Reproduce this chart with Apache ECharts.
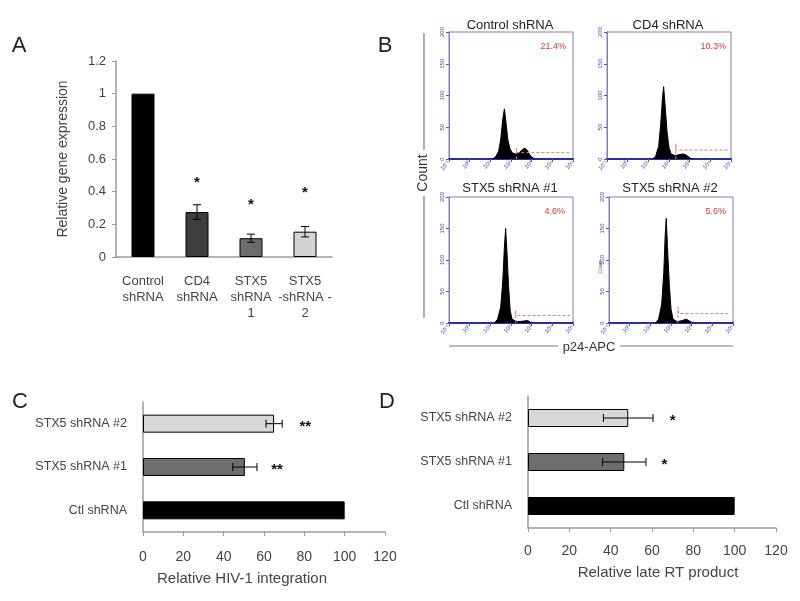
<!DOCTYPE html>
<html>
<head>
<meta charset="utf-8">
<script src="https://cdn.jsdelivr.net/npm/echarts@6/dist/echarts.min.js"></script>
<style>
html, body { margin: 0; padding: 0; background: #fff; }
#main { width: 800px; height: 601px; }
</style>
</head>
<body>
<div id="main"></div>
<script>
// panel A - relative gene expression
const catsA = ['Control\nshRNA', 'CD4\nshRNA', 'STX5\nshRNA\n1', 'STX5\n-shRNA -\n2']
const valsA = [1.0, 0.275, 0.115, 0.155]
const errA = [0, 0.045, 0.025, 0.032]
const starA = [null, 0.47, 0.34, 0.41]
const colorsA = ['#000000', '#3e3e3e', '#6c6c6c', '#d4d4d4']

// panel B - flow histograms, [log value, count]
const flowTitles = ['Control shRNA', 'CD4 shRNA', 'STX5 shRNA #1', 'STX5 shRNA #2']
const flowPercents = ['21.4%', '10.3%', '4.6%', '5.6%']
const flowXLabels = ['10⁻¹', '10⁰', '10¹', '10²', '10³', '10⁴', '10⁵']
const flowCtl = [[2.1, 0], [2.25, 3], [2.4, 12], [2.5, 30], [2.6, 62], [2.68, 79], [2.75, 60], [2.85, 30], [2.95, 16], [3.05, 10], [3.2, 8], [3.4, 10], [3.55, 15], [3.68, 17], [3.8, 13], [3.9, 7], [4.0, 3], [4.15, 0]]
const flowCD4 = [[2.2, 0], [2.35, 4], [2.5, 20], [2.6, 55], [2.68, 95], [2.74, 114], [2.8, 90], [2.9, 45], [3.0, 18], [3.1, 8], [3.3, 5], [3.5, 7], [3.7, 8], [3.85, 6], [4.0, 2], [4.1, 0]]
const flowStx1 = [[2.2, 0], [2.35, 6], [2.5, 25], [2.6, 65], [2.68, 120], [2.74, 150], [2.8, 115], [2.88, 60], [2.96, 20], [3.05, 6], [3.3, 2], [3.6, 3], [3.8, 4], [3.95, 1], [4.05, 0]]
const flowStx2 = [[2.25, 0], [2.4, 6], [2.55, 30], [2.65, 80], [2.72, 140], [2.77, 166], [2.83, 120], [2.92, 60], [3.0, 22], [3.1, 6], [3.3, 2], [3.55, 4], [3.75, 6], [3.9, 3], [4.05, 0]]
const gateX = [3.27, 3.33, 3.23, 3.34]
const gateY = [10, 14, 12, 15]

// panel C - HIV-1 integration
const catsCD = ['Ctl shRNA', 'STX5 shRNA #1', 'STX5 shRNA #2']
const valsC = [100, 50.5, 65]
const errC = [0, 6, 4]
const starC = [null, 66.5, 80.5]
// panel D - late RT product
const valsD = [100, 46.6, 48.5]
const errD = [0, 10.5, 12]
const starD = [null, 66, 70]
const colorsCD = ['#000000', '#6e6e6e', '#d8d8d8']

const FONT = 'Liberation Sans, Arial, sans-serif'
const chart = echarts.init(document.getElementById('main'))

function vErr (params, api) {
  const x = api.value(0), m = api.value(1), e = api.value(2)
  if (!e) return null
  const hi = api.coord([x, m + e]), lo = api.coord([x, m - e])
  const st = { stroke: '#000', lineWidth: 1 }
  return { type: 'group', children: [
    { type: 'line', shape: { x1: hi[0], y1: hi[1], x2: lo[0], y2: lo[1] }, style: st },
    { type: 'line', shape: { x1: hi[0] - 4, y1: hi[1], x2: hi[0] + 4, y2: hi[1] }, style: st },
    { type: 'line', shape: { x1: lo[0] - 4, y1: lo[1], x2: lo[0] + 4, y2: lo[1] }, style: st }
  ] }
}
function hErr (params, api) {
  const y = api.value(0), m = api.value(1), e = api.value(2)
  if (!e) return null
  const hi = api.coord([m + e, y]), lo = api.coord([m - e, y])
  const st = { stroke: '#000', lineWidth: 1 }
  return { type: 'group', children: [
    { type: 'line', shape: { x1: hi[0], y1: hi[1], x2: lo[0], y2: lo[1] }, style: st },
    { type: 'line', shape: { x1: hi[0], y1: hi[1] - 4, x2: hi[0], y2: hi[1] + 4 }, style: st },
    { type: 'line', shape: { x1: lo[0], y1: lo[1] - 4, x2: lo[0], y2: lo[1] + 4 }, style: st }
  ] }
}
function starText (horizontal, text) {
  return function (params, api) {
    const c = horizontal ? api.coord([api.value(1), api.value(0)]) : api.coord([api.value(0), api.value(1)])
    return { type: 'text', style: { text: text, x: c[0], y: c[1] + 3, fill: '#111', font: 'bold 15px ' + FONT, textAlign: 'center', textVerticalAlign: 'middle' } }
  }
}
function toTriples (vals, errs) {
  return vals.map((v, i) => [i, v, errs[i]])
}
function toStars (stars) {
  return stars.map((v, i) => v == null ? null : [i, v]).filter(d => d)
}

const grids = [
  { left: 116, top: 61, width: 216, height: 196 },
  { left: 449, top: 32, width: 124, height: 127 },
  { left: 607, top: 32, width: 124, height: 127 },
  { left: 449, top: 197, width: 124, height: 126 },
  { left: 609, top: 197, width: 124, height: 126 },
  { left: 143, top: 402, width: 242, height: 130 },
  { left: 528, top: 396, width: 248, height: 132 }
]
grids.forEach((g, i) => {
  if (i >= 1 && i <= 4) {
    g.show = true
    g.borderColor = '#7f7fbf'
    g.borderWidth = 1
  }
})

const grayAxis = { lineStyle: { color: '#9a9a9a', width: 1.5 } }
const xAxes = [
  { gridIndex: 0, type: 'category', data: catsA, axisLine: grayAxis, axisTick: { lineStyle: { color: '#9a9a9a' }, length: 4 },
    axisLabel: { color: '#444', fontSize: 13, lineHeight: 16, margin: 16, fontFamily: FONT, interval: 0 } }
]
const yAxes = [
  { gridIndex: 0, type: 'value', min: 0, max: 1.2, interval: 0.2, splitLine: { show: false }, axisLine: { show: true, lineStyle: { color: '#9a9a9a', width: 1.5 } },
    axisTick: { show: true, length: 4, lineStyle: { color: '#9a9a9a' } },
    axisLabel: { color: '#444', fontSize: 13, margin: 10, fontFamily: FONT },
    name: 'Relative gene expression', nameLocation: 'middle', nameGap: 46, nameTextStyle: { color: '#444', fontSize: 14, fontFamily: FONT } }
]
for (let k = 0; k < 4; k++) {
  xAxes.push({ gridIndex: k + 1, type: 'value', min: 0, max: 6, interval: 1, splitLine: { show: false },
    axisLine: { lineStyle: { color: '#2b2ba8', width: 2 } }, axisTick: { length: 3, lineStyle: { color: '#5555bb' } },
    axisLabel: { rotate: 45, fontSize: 6, margin: 3, color: '#4a4ac8', fontFamily: FONT, formatter: v => flowXLabels[v] } })
  yAxes.push({ gridIndex: k + 1, type: 'value', min: 0, max: 200, interval: 50, splitLine: { show: false },
    axisLine: { show: true, lineStyle: { color: '#7f7fbf' } }, axisTick: { show: true, length: 3, lineStyle: { color: '#5555bb' } },
    axisLabel: { rotate: 90, fontSize: 6, margin: 4, color: '#4a4ac8', fontFamily: FONT } })
}
const cdValueAxis = {
  type: 'value', min: 0, max: 120, interval: 20, splitLine: { show: false },
  axisLine: { show: true, lineStyle: { color: '#9a9a9a', width: 1.5 } },
  axisTick: { show: true, length: 4, lineStyle: { color: '#9a9a9a' } },
  axisLabel: { color: '#444', fontSize: 14, fontFamily: FONT }
}
xAxes.push(Object.assign({}, cdValueAxis, { gridIndex: 5, axisLabel: Object.assign({}, cdValueAxis.axisLabel, { margin: 18 }) }))
xAxes.push(Object.assign({}, cdValueAxis, { gridIndex: 6, axisLabel: Object.assign({}, cdValueAxis.axisLabel, { margin: 16 }) }))
for (let g = 5; g <= 6; g++) {
  yAxes.push({ gridIndex: g, type: 'category', data: catsCD, axisLine: grayAxis,
    axisTick: { length: 4, lineStyle: { color: '#9a9a9a' } },
    axisLabel: { color: '#444', fontSize: 12.5, margin: 16, fontFamily: FONT } })
}

const flowSets = [flowCtl, flowCD4, flowStx1, flowStx2]
const series = [
  { type: 'bar', xAxisIndex: 0, yAxisIndex: 0, barWidth: 23,
    data: valsA.map((v, i) => ({ value: v, itemStyle: { color: colorsA[i] } })),
    itemStyle: { borderColor: '#000', borderWidth: 1 } },
  { type: 'custom', xAxisIndex: 0, yAxisIndex: 0, renderItem: vErr, data: toTriples(valsA, errA), z: 5 },
  { type: 'custom', xAxisIndex: 0, yAxisIndex: 0, renderItem: starText(false, '*'), data: toStars(starA), z: 5 }
]
flowSets.forEach((d, k) => {
  series.push({ type: 'line', xAxisIndex: k + 1, yAxisIndex: k + 1, data: d, symbol: 'none',
    lineStyle: { color: '#000', width: 1 }, areaStyle: { color: '#000', opacity: 1 }, z: 3 })
  const gx = gateX[k], gy = gateY[k]
  series.push({ type: 'line', xAxisIndex: k + 1, yAxisIndex: k + 1, symbol: 'none', z: 4,
    data: [[gx, 0], [gx, gy * 1.7], [gx, gy], [5.85, gy]],
    lineStyle: { color: '#d98080', width: 1, type: [3, 2] } })
})
series.push(
  { type: 'bar', xAxisIndex: 5, yAxisIndex: 5, barWidth: 18,
    data: valsC.map((v, i) => ({ value: v, itemStyle: { color: colorsCD[i] } })),
    itemStyle: { borderColor: '#000', borderWidth: 1 } },
  { type: 'custom', xAxisIndex: 5, yAxisIndex: 5, renderItem: hErr, data: toTriples(valsC, errC), z: 5 },
  { type: 'custom', xAxisIndex: 5, yAxisIndex: 5, renderItem: starText(true, '**'), data: toStars(starC), z: 5 },
  { type: 'bar', xAxisIndex: 6, yAxisIndex: 6, barWidth: 18,
    data: valsD.map((v, i) => ({ value: v, itemStyle: { color: colorsCD[i] } })),
    itemStyle: { borderColor: '#000', borderWidth: 1 } },
  { type: 'custom', xAxisIndex: 6, yAxisIndex: 6, renderItem: hErr, data: toTriples(valsD, errD), z: 5 },
  { type: 'custom', xAxisIndex: 6, yAxisIndex: 6, renderItem: starText(true, '*'), data: toStars(starD), z: 5 }
)

function txt (text, x, y, size, color, extra) {
  return Object.assign({ type: 'text', x: x, y: y, style: { text: text, fill: color, font: size + 'px ' + FONT, textAlign: 'center', textVerticalAlign: 'middle' } }, extra || {})
}
function seg (x1, y1, x2, y2) {
  return { type: 'line', shape: { x1: x1, y1: y1, x2: x2, y2: y2 }, style: { stroke: '#777', lineWidth: 1.2 } }
}
const flowTitlePos = [[510, 25], [668, 25], [510, 188], [670, 188]]
const flowPctPos = [[566, 47], [726, 47], [565, 212], [726, 212]]
const graphics = [
  txt('A', 19, 46, 22, '#222'), txt('B', 385, 46, 22, '#222'),
  txt('C', 20, 402, 22, '#222'), txt('D', 387, 402, 22, '#222'),
  txt('Count', 423, 173, 14, '#333', { rotation: Math.PI / 2 }),
  seg(424, 33, 424, 150), seg(424, 196, 424, 318),
  txt('p24-APC', 589, 347, 13, '#333'),
  seg(449, 346, 558, 346), seg(620, 346, 733, 346),
  txt('Count', 601, 267, 5, '#555', { rotation: Math.PI / 2 }),
  txt('Relative HIV-1 integration', 242, 579, 15, '#444'),
  txt('Relative late RT product', 658, 573, 15, '#444')
]
flowTitles.forEach((t, k) => graphics.push(txt(t, flowTitlePos[k][0], flowTitlePos[k][1], 13, '#222')))
flowPercents.forEach((t, k) => {
  const g = txt(t, flowPctPos[k][0], flowPctPos[k][1], 9, '#e5323c')
  g.style.textAlign = 'right'
  graphics.push(g)
})

chart.setOption({
  backgroundColor: '#fff',
  animation: false,
  grid: grids,
  xAxis: xAxes,
  yAxis: yAxes,
  series: series,
  graphic: graphics
})
</script>
</body>
</html>
